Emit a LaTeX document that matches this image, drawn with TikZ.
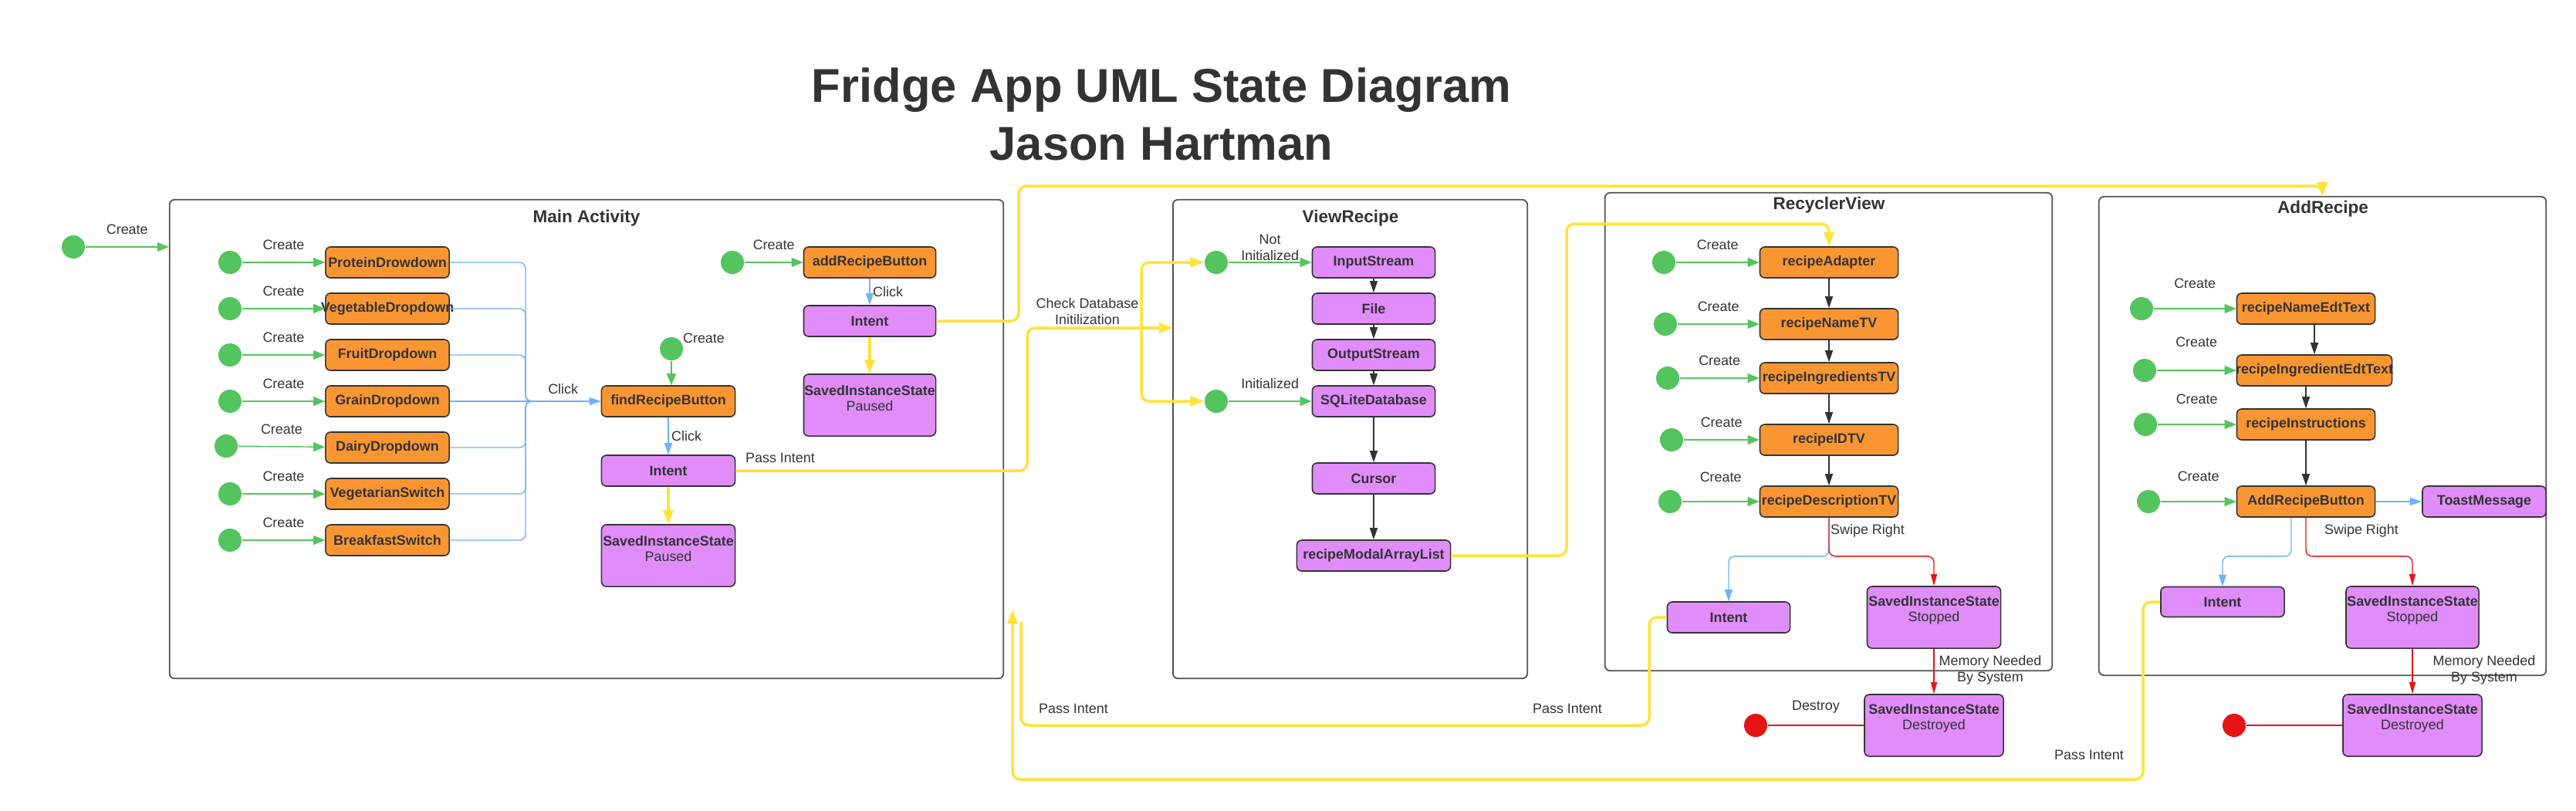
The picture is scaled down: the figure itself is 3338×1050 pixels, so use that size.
\documentclass[tikz,border=0pt]{standalone}
\usepackage{fontspec}
\setmainfont{Liberation Sans}
\usetikzlibrary{arrows.meta}

\definecolor{dotgreen}{RGB}{84,196,94}
\definecolor{boxorange}{RGB}{250,150,50}
\definecolor{boxpurple}{RGB}{224,140,250}
\definecolor{lineblue}{RGB}{108,178,255}
\definecolor{lineyellow}{RGB}{255,226,60}
\definecolor{linered}{RGB}{230,20,20}
\definecolor{ink}{RGB}{51,51,51}

\begin{document}
\begin{tikzpicture}[x=0.01cm,y=-0.01cm,
  every node/.style={font=\fontsize{5.1}{6}\selectfont, text=ink},
  frame/.style={draw=ink!85, line width=0.5pt, rounded corners=1.8pt, inner sep=0pt},
  frametitle/.style={font=\fontsize{6.4}{7.5}\selectfont\bfseries},
  orangebox/.style={draw=ink, fill=boxorange, line width=0.45pt, rounded corners=1.8pt, minimum height=0.4cm, inner sep=0pt, font=\fontsize{5.1}{6}\selectfont\bfseries},
  purplebox/.style={orangebox, fill=boxpurple},
  savedbox/.style={purplebox, minimum height=0.8cm},
  savedtxt/.style={align=center, inner sep=0pt, font=\fontsize{5.1}{5.8}\selectfont\bfseries},
  startdot/.style={circle, fill=dotgreen, minimum size=0.3cm, inner sep=0pt},
  enddot/.style={startdot, fill=linered},
  lbl/.style={inner sep=1pt},
  greenarrow/.style={draw=dotgreen, line width=0.4pt, -{Triangle[length=0.15cm,width=0.12cm]}},
  blueline/.style={draw=lineblue, line width=0.4pt, rounded corners=0.08cm},
  bluearrow/.style={blueline, -{Triangle[length=0.15cm,width=0.1cm]}},
  blackarrow/.style={draw=ink, line width=0.4pt, -{Triangle[length=0.15cm,width=0.1cm]}},
  redline/.style={draw=linered, line width=0.4pt, rounded corners=0.08cm},
  redarrow/.style={redline, -{Triangle[length=0.15cm,width=0.08cm]}},
  yellowline/.style={draw=lineyellow, line width=1pt, rounded corners=0.1cm},
  yellowarrow/.style={yellowline, -{Triangle[length=0.18cm,width=0.13cm]}}]

\useasboundingbox (0,0) rectangle (3338,1050);

\node[font=\fontsize{17.5}{21}\selectfont\bfseries, anchor=base] (title) at (1505,132) {Fridge App UML State Diagram};
\node[font=\fontsize{17.5}{21}\selectfont\bfseries, anchor=base] (author) at (1505,207) {Jason Hartman};

% frames
\node[frame, minimum width=10.8cm, minimum height=6.2cm] (mainAct) at (760,569) {};
\node[frame, minimum width=4.59cm, minimum height=6.2cm] (viewRec) at (1749.5,569) {};
\node[frame, minimum width=5.79cm, minimum height=6.19cm] (recView) at (2369.5,559.5) {};
\node[frame, minimum width=5.79cm, minimum height=6.2cm] (addRec) at (3009.5,565) {};
\node[frametitle] (mainT) at (760,283) {Main Activity};
\node[frametitle] (viewT) at (1750,283) {ViewRecipe};
\node[frametitle] (recT) at (2370,266) {RecyclerView};
\node[frametitle] (addT) at (3010,271) {AddRecipe};

% main activity
\node[startdot] (start) at (95,320) {};
\draw[greenarrow] (start) -- node[lbl, above=3.4pt]{Create} (start -| mainAct.west);

\node[orangebox, minimum width=1.6cm] (protein) at (502,340) {ProteinDrowdown};
\node[orangebox, minimum width=1.6cm] (veg) at (502,400) {\makebox[1.5cm]{VegetableDropdown}};
\node[orangebox, minimum width=1.6cm] (fruit) at (502,460) {FruitDropdown};
\node[orangebox, minimum width=1.6cm] (grain) at (502,520) {GrainDropdown};
\node[orangebox, minimum width=1.6cm] (dairy) at (502,580) {DairyDropdown};
\node[orangebox, minimum width=1.6cm] (vegetarian) at (502,640) {VegetarianSwitch};
\node[orangebox, minimum width=1.6cm] (breakfast) at (502,700) {BreakfastSwitch};
\node[startdot] (protein0) at (298,340) {};
\node[startdot] (veg0) at (298,400) {};
\node[startdot] (fruit0) at (298,460) {};
\node[startdot] (grain0) at (298,520) {};
\node[startdot] (dairy0) at (293,578) {};
\node[startdot] (vegetarian0) at (298,640) {};
\node[startdot] (breakfast0) at (298,700) {};
\draw[greenarrow] (protein0) -- node[lbl, above=3.4pt]{Create} (protein);
\draw[greenarrow] (veg0) -- node[lbl, above=3.4pt]{Create} (veg);
\draw[greenarrow] (fruit0) -- node[lbl, above=3.4pt]{Create} (fruit);
\draw[greenarrow] (grain0) -- node[lbl, above=3.4pt]{Create} (grain);
\draw[greenarrow] (dairy0) -- node[lbl, above=3.4pt]{Create} (dairy);
\draw[greenarrow] (vegetarian0) -- node[lbl, above=3.4pt]{Create} (vegetarian);
\draw[greenarrow] (breakfast0) -- node[lbl, above=3.4pt]{Create} (breakfast);

\node[orangebox, minimum width=1.73cm] (findBtn) at (866,520) {findRecipeButton};
\draw[blueline] (protein.east) -| (681,520) -- (700,520);
\draw[blueline] (veg.east) -| (681,520) -- (700,520);
\draw[blueline] (fruit.east) -| (681,520) -- (700,520);
\draw[blueline] (dairy.east) -| (681,520) -- (700,520);
\draw[blueline] (vegetarian.east) -| (681,520) -- (700,520);
\draw[blueline] (breakfast.east) -| (681,520) -- (700,520);
\draw[bluearrow] (grain) -- node[lbl, above=1.5pt, pos=0.75]{Click} (findBtn);

\node[startdot] (find0) at (870,452) {};
\node[lbl] (findCreate) at (912,438) {Create};
\draw[greenarrow] (find0) -- (find0 |- findBtn.north);
\node[purplebox, minimum width=1.73cm] (findIntent) at (866,610) {Intent};
\draw[bluearrow] (findBtn) -- node[lbl, right]{Click} (findIntent);
\node[savedbox, minimum width=1.73cm] (findSaved) at (866,720) {};
\node[savedtxt] (findSavedT) at (866,711) {SavedInstanceState\\{\mdseries Paused}};
\draw[yellowarrow] (findIntent) -- (findSaved);

\node[orangebox, minimum width=1.71cm] (addBtn) at (1127,340) {addRecipeButton};
\node[startdot] (add0) at (949,340) {};
\draw[greenarrow] (add0) -- node[lbl, above=3.4pt]{Create} (addBtn);
\node[purplebox, minimum width=1.71cm] (addIntent) at (1127,416) {Intent};
\draw[bluearrow] (addBtn) -- node[lbl, right]{Click} (addIntent);
\node[savedbox, minimum width=1.71cm] (addSaved) at (1127,525) {};
\node[savedtxt] (addSavedT) at (1127,516) {SavedInstanceState\\{\mdseries Paused}};
\draw[yellowarrow] (addIntent) -- (addSaved);

% view recipe
\node[purplebox, minimum width=1.59cm] (input) at (1780,340) {InputStream};
\node[purplebox, minimum width=1.59cm] (file) at (1780,400) {File};
\node[purplebox, minimum width=1.59cm] (output) at (1780,460) {OutputStream};
\node[purplebox, minimum width=1.59cm] (sqlite) at (1780,520) {SQLiteDatabase};
\node[purplebox, minimum width=1.59cm] (cursor) at (1780,620) {Cursor};
\node[purplebox, minimum width=1.99cm] (modalList) at (1780,720) {recipeModalArrayList};
\node[startdot] (notInit) at (1576,340) {};
\node[startdot] (isInit) at (1576,520) {};
\draw[greenarrow] (notInit) -- node[lbl, above=-0.5pt, align=center]{Not\\Initialized} (input);
\draw[greenarrow] (isInit) -- node[lbl, above=3.4pt]{Initialized} (sqlite);
\draw[blackarrow] (input) -- (file);
\draw[blackarrow] (file) -- (output);
\draw[blackarrow] (output) -- (sqlite);
\draw[blackarrow] (sqlite) -- (cursor);
\draw[blackarrow] (cursor) -- (modalList);

% recycler view
\node[orangebox, minimum width=1.79cm] (adapter) at (2370,340) {recipeAdapter};
\node[orangebox, minimum width=1.79cm] (nameTV) at (2370,420) {recipeNameTV};
\node[orangebox, minimum width=1.79cm] (ingTV) at (2370,490) {recipeIngredientsTV};
\node[orangebox, minimum width=1.79cm] (idTV) at (2370,570) {recipeIDTV};
\node[orangebox, minimum width=1.79cm] (descTV) at (2370,650) {recipeDescriptionTV};
\node[startdot] (adapter0) at (2156,340) {};
\node[startdot] (nameTV0) at (2158,420) {};
\node[startdot] (ingTV0) at (2161,490) {};
\node[startdot] (idTV0) at (2166,570) {};
\node[startdot] (descTV0) at (2164,650) {};
\draw[greenarrow] (adapter0) -- node[lbl, above=3.4pt]{Create} (adapter);
\draw[greenarrow] (nameTV0) -- node[lbl, above=3.4pt]{Create} (nameTV);
\draw[greenarrow] (ingTV0) -- node[lbl, above=3.4pt]{Create} (ingTV);
\draw[greenarrow] (idTV0) -- node[lbl, above=3.4pt]{Create} (idTV);
\draw[greenarrow] (descTV0) -- node[lbl, above=6pt]{Create} (descTV);
\draw[blackarrow] (adapter) -- (nameTV);
\draw[blackarrow] (nameTV) -- (ingTV);
\draw[blackarrow] (ingTV) -- (idTV);
\draw[blackarrow] (idTV) -- (descTV);

\node[purplebox, minimum width=1.59cm] (recIntent) at (2240,800) {Intent};
\node[savedbox, minimum width=1.73cm] (recStopped) at (2506,800) {};
\node[savedtxt] (recStoppedT) at (2506,791) {SavedInstanceState\\{\mdseries Stopped}};
\node[savedbox, minimum width=1.8cm] (recDestroyed) at (2506,940) {};
\node[savedtxt] (recDestroyedT) at (2506,931) {SavedInstanceState\\{\mdseries Destroyed}};
\node[enddot] (recEnd) at (2275,940) {};
\draw[bluearrow] (descTV.south) -- ++(0,50) -| (recIntent.north);
\draw[redarrow] (descTV.south) -- ++(0,50) -| (recStopped.north);
\node[lbl] (recSwipe) at (2420,688) {Swipe Right};
\draw[redarrow] (recStopped) -- (recDestroyed);
\node[lbl, align=center] (recMem) at (2579,868) {Memory Needed\\By System};
\draw[redline] (recEnd) -- node[lbl, above=3.4pt]{Destroy} (recDestroyed);

% add recipe
\node[orangebox, minimum width=1.79cm] (nameEdt) at (2988,400) {recipeNameEdtText};
\node[orangebox, minimum width=2.01cm] (ingEdt) at (2999,480) {\makebox[1.95cm]{recipeIngredientEdtText}};
\node[orangebox, minimum width=1.79cm] (instr) at (2988,550) {recipeInstructions};
\node[orangebox, minimum width=1.79cm] (arBtn) at (2988,650) {AddRecipeButton};
\node[purplebox, minimum width=1.6cm] (toast) at (3219,650) {ToastMessage};
\node[startdot] (nameEdt0) at (2775,400) {};
\node[startdot] (ingEdt0) at (2779,480) {};
\node[startdot] (instr0) at (2780,550) {};
\node[startdot] (arBtn0) at (2784,650) {};
\draw[greenarrow] (nameEdt0) -- node[lbl, above=6.2pt]{Create} (nameEdt);
\draw[greenarrow] (ingEdt0) -- node[lbl, above=7.5pt]{Create} (ingEdt);
\draw[greenarrow] (instr0) -- node[lbl, above=6.2pt]{Create} (instr);
\draw[greenarrow] (arBtn0) -- node[lbl, above=6.2pt]{Create} (arBtn);
\draw[blackarrow] (nameEdt.south -| ingEdt.north) -- (ingEdt.north);
\draw[blackarrow] (ingEdt.south -| instr.north) -- (instr.north);
\draw[blackarrow] (instr) -- (arBtn);
\draw[bluearrow] (arBtn) -- (toast);

\node[purplebox, minimum width=1.6cm, minimum height=0.39cm] (arIntent) at (2880,780) {Intent};
\node[savedbox, minimum width=1.72cm] (arStopped) at (3126,800) {};
\node[savedtxt] (arStoppedT) at (3126,791) {SavedInstanceState\\{\mdseries Stopped}};
\node[savedbox, minimum width=1.8cm] (arDestroyed) at (3126,940) {};
\node[savedtxt] (arDestroyedT) at (3126,931) {SavedInstanceState\\{\mdseries Destroyed}};
\node[enddot] (arEnd) at (2895,940) {};
\draw[bluearrow] ([xshift=-0.19cm]arBtn.south) -- ++(0,50) -| (arIntent.north);
\draw[redarrow] (arBtn.south) -- ++(0,50) -| (arStopped.north);
\node[lbl] (arSwipe) at (3060,688) {Swipe Right};
\draw[redarrow] (arStopped) -- (arDestroyed);
\node[lbl, align=center] (arMem) at (3219,868) {Memory Needed\\By System};
\draw[redline] (arEnd) -- (arDestroyed);

% intents passed between activities
\coordinate (chk) at (1520,425);
\coordinate (fork) at (1479,425);
\draw[yellowline] (findIntent.east) -| (1331,425) -- (fork);
\draw[yellowarrow] (fork) -- (chk);
\draw[yellowarrow] (fork) |- (notInit);
\draw[yellowarrow] (fork) |- (isInit);
\node[lbl] (findPass) at (1011,593) {Pass Intent};
\node[lbl, align=center] (chkT) at (1409,404) {Check Database\\Initilization};
\draw[yellowarrow] (addIntent.east) -| (1320,241) -| (addRec.north);
\draw[yellowarrow] (modalList.east) -| (2030,290) -| (adapter.north);
\draw[yellowline] (recIntent.west) -| (2137,940) -| (1323,806);
\draw[yellowarrow] (arIntent.west) -| (2777,1010) -| (1312,790);
\node[lbl] (recPass1) at (1391,918) {Pass Intent};
\node[lbl] (recPass2) at (2031,918) {Pass Intent};
\node[lbl] (arPass) at (2707,978) {Pass Intent};
\end{tikzpicture}
\end{document}
